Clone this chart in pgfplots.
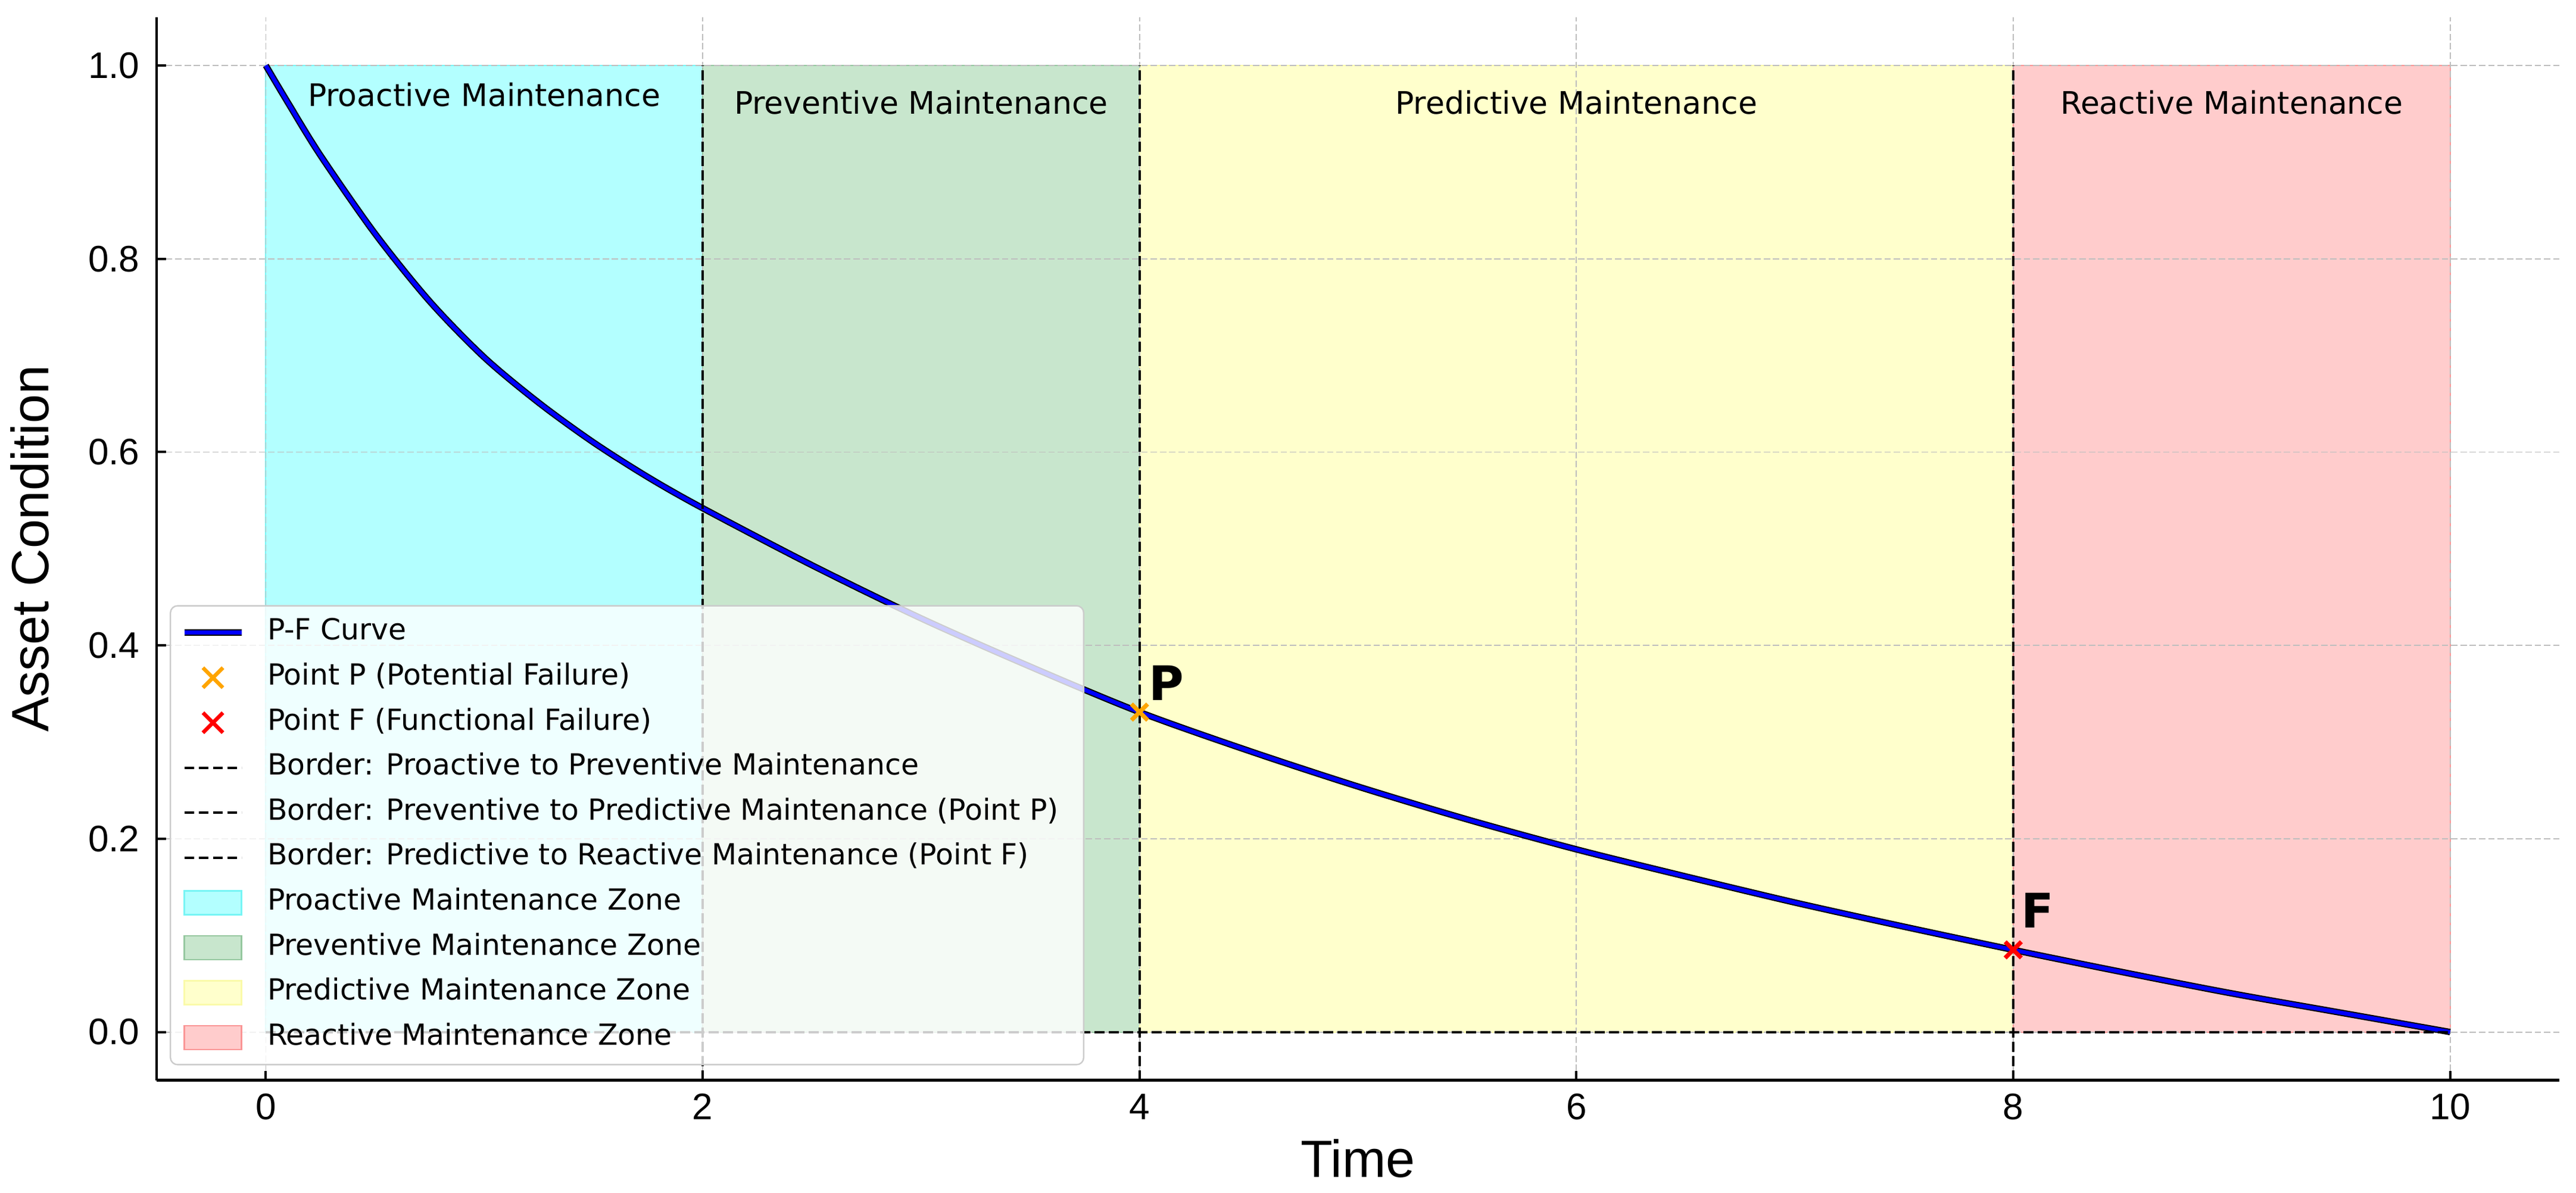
\documentclass[border=0pt]{standalone}
\usepackage{pgfplots}
\pgfplotsset{compat=1.18}
\usepackage{pgfplotstable}
\usepackage{fontspec}
\setmainfont{DejaVu Sans}
\newfontfamily\arial{Liberation Sans}

\definecolor{zcyan}{RGB}{179,255,255}
\definecolor{zcyanE}{RGB}{120,245,245}
\definecolor{zgreen}{RGB}{200,230,205}
\definecolor{zgreenE}{RGB}{150,200,160}
\definecolor{zyellow}{RGB}{255,255,204}
\definecolor{zyellowE}{RGB}{250,250,170}
\definecolor{zred}{RGB}{255,204,204}
\definecolor{zredE}{RGB}{250,150,150}
\definecolor{mOrange}{RGB}{255,165,0}
\definecolor{gridgray}{RGB}{190,190,190}
\definecolor{legframe}{RGB}{204,204,204}

% P-F curve
\pgfplotstableread{
x y
0.00 1.000
0.10 0.962
0.25 0.907
0.50 0.826
0.75 0.756
1.00 0.698
1.25 0.651
1.50 0.610
1.75 0.574
2.00 0.542
2.50 0.483
3.00 0.428
3.50 0.378
4.00 0.331
4.50 0.291
5.00 0.254
5.50 0.220
6.00 0.189
6.50 0.161
7.00 0.134
7.50 0.109
8.00 0.085
8.50 0.062
9.00 0.040
9.50 0.020
10.00 0.000
}\pfcurve

\begin{document}
\begin{tikzpicture}
\begin{axis}[
  set layers,
  scale only axis, width=1008.75pt, height=446.5pt,
  xmin=-0.5, xmax=10.5, ymin=-0.05, ymax=1.05,
  axis x line*=bottom, axis y line*=left,
  axis line style={line width=1.2pt},
  tick align=inside, major tick length=4pt,
  tick style={line width=1pt, black},
  xtick={0,2,4,6,8,10}, ytick={0,0.2,0.4,0.6,0.8,1.0},
  yticklabel style={/pgf/number format/fixed, /pgf/number format/fixed zerofill,
    /pgf/number format/precision=1},
  /pgf/number format/assume math mode=true,
  ticklabel style={font=\arial\fontsize{15.5}{18}\selectfont, inner sep=0pt},
  xticklabel style={anchor=north, yshift=-5.5pt},
  yticklabel style={anchor=east, xshift=-7pt},
  xmajorgrids, ymajorgrids,
  major grid style={line width=0.45pt, gridgray, dash pattern=on 2.7pt off 1.2pt},
  xlabel={Time}, ylabel={Asset Condition},
  label style={font=\arial\fontsize{22}{26}\selectfont},
  xlabel style={at={([yshift=-40.75pt]axis description cs:0.5,0)}, anchor=base},
  ylabel style={at={([xshift=-53.25pt]axis description cs:0,0.5)}, anchor=center},
  legend cell align=left,
  legend style={
    at={(0,0)}, anchor=south west, xshift=5.5pt, yshift=6.3pt,
    draw=legframe, line width=0.6pt, rounded corners=3pt,
    fill=white, fill opacity=0.8, draw opacity=1, text opacity=1,
    font=\fontsize{12.2}{14}\selectfont,
    inner xsep=4.5pt, inner ysep=5.3pt,
    row sep=6.9pt, column sep=3.5pt,
    nodes={inner ysep=0pt, inner xsep=6pt, text height=9pt, text depth=3pt},
  },
]
% zones
\addplot[on layer=axis background, fill=zcyan, draw=zcyanE, line width=0.5pt, forget plot]
  coordinates {(0,0) (0,1) (2,1) (2,0) (0,0)};
\addplot[on layer=axis background, fill=zgreen, draw=zgreenE, line width=0.5pt, forget plot]
  coordinates {(2,0) (2,1) (4,1) (4,0) (2,0)};
\addplot[on layer=axis background, fill=zyellow, draw=zyellowE, line width=0.5pt, forget plot]
  coordinates {(4,0) (4,1) (8,1) (8,0) (4,0)};
\addplot[on layer=axis background, fill=zred, draw=zredE, line width=0.5pt, forget plot]
  coordinates {(8,0) (8,1) (10,1) (10,0) (8,0)};

% curve
\addplot[black, line width=2.7pt, smooth, forget plot] table {\pfcurve};
\addplot[blue, line width=1.7pt, smooth, forget plot] table {\pfcurve};

% borders
\addplot[black, line width=1pt, dash pattern=on 4.2pt off 1.8pt, forget plot]
  coordinates {(2,-0.05) (2,1)};
\addplot[black, line width=1pt, dash pattern=on 4.2pt off 1.8pt, forget plot]
  coordinates {(4,-0.05) (4,1)};
\addplot[black, line width=1pt, dash pattern=on 4.2pt off 1.8pt, forget plot]
  coordinates {(8,-0.05) (8,1)};
\addplot[black, line width=1pt, dash pattern=on 4.2pt off 1.8pt, forget plot]
  coordinates {(0,0) (10,0)};

% points P and F
\addplot[only marks, mark=x, mark size=4.8pt, mOrange, mark options={line width=1.8pt}, forget plot]
  coordinates {(4,0.331)};
\addplot[only marks, mark=x, mark size=4.8pt, red, mark options={line width=1.8pt}, forget plot]
  coordinates {(8,0.085)};

\node[anchor=base west, inner sep=0pt, font=\bfseries\fontsize{20}{24}\selectfont]
  at (axis cs:4.04,0.343) {P};
\node[anchor=base west, inner sep=0pt, font=\bfseries\fontsize{20}{24}\selectfont]
  at (axis cs:8.035,0.108) {F};

% zone titles
\node[font=\fontsize{13}{15}\selectfont] at (axis cs:1,0.970) {Proactive Maintenance};
\node[font=\fontsize{13}{15}\selectfont] at (axis cs:3,0.962) {Preventive Maintenance};
\node[font=\fontsize{13}{15}\selectfont] at (axis cs:6,0.962) {Predictive Maintenance};
\node[font=\fontsize{13}{15}\selectfont] at (axis cs:9,0.962) {Reactive Maintenance};

% legend
\addlegendimage{legend image code/.code={
  \draw[black, line width=2.7pt, draw opacity=1] (0pt,0pt)--(24pt,0pt);
  \draw[blue, line width=1.7pt, draw opacity=1] (0pt,0pt)--(24pt,0pt);}}
\addlegendentry{P-F Curve}
\addlegendimage{legend image code/.code={
  \draw[mOrange, line width=1.6pt, draw opacity=1] (7.8pt,-4.2pt)--(16.2pt,4.2pt) (7.8pt,4.2pt)--(16.2pt,-4.2pt);}}
\addlegendentry{Point P (Potential Failure)}
\addlegendimage{legend image code/.code={
  \draw[red, line width=1.6pt, draw opacity=1] (7.8pt,-4.2pt)--(16.2pt,4.2pt) (7.8pt,4.2pt)--(16.2pt,-4.2pt);}}
\addlegendentry{Point F (Functional Failure)}
\addlegendimage{legend image code/.code={
  \draw[black, line width=1pt, dash pattern=on 4.2pt off 1.8pt, draw opacity=1] (0pt,0pt)--(24pt,0pt);}}
\addlegendentry{Border: Proactive to Preventive Maintenance}
\addlegendimage{legend image code/.code={
  \draw[black, line width=1pt, dash pattern=on 4.2pt off 1.8pt, draw opacity=1] (0pt,0pt)--(24pt,0pt);}}
\addlegendentry{Border: Preventive to Predictive Maintenance (Point P)}
\addlegendimage{legend image code/.code={
  \draw[black, line width=1pt, dash pattern=on 4.2pt off 1.8pt, draw opacity=1] (0pt,0pt)--(24pt,0pt);}}
\addlegendentry{Border: Predictive to Reactive Maintenance (Point F)}
\addlegendimage{legend image code/.code={
  \draw[fill=zcyan, draw=zcyanE, line width=0.6pt, fill opacity=1, draw opacity=1, sharp corners] (0pt,-5pt) rectangle (24pt,5pt);}}
\addlegendentry{Proactive Maintenance Zone}
\addlegendimage{legend image code/.code={
  \draw[fill=zgreen, draw=zgreenE, line width=0.6pt, fill opacity=1, draw opacity=1, sharp corners] (0pt,-5pt) rectangle (24pt,5pt);}}
\addlegendentry{Preventive Maintenance Zone}
\addlegendimage{legend image code/.code={
  \draw[fill=zyellow, draw=zyellowE, line width=0.6pt, fill opacity=1, draw opacity=1, sharp corners] (0pt,-5pt) rectangle (24pt,5pt);}}
\addlegendentry{Predictive Maintenance Zone}
\addlegendimage{legend image code/.code={
  \draw[fill=zred, draw=zredE, line width=0.6pt, fill opacity=1, draw opacity=1, sharp corners] (0pt,-5pt) rectangle (24pt,5pt);}}
\addlegendentry{Reactive Maintenance Zone}
\end{axis}
\pgfresetboundingbox
\path[use as bounding box] (-65.75pt,-47.25pt) rectangle (1015.75pt,453.7pt);
\end{tikzpicture}
\end{document}
